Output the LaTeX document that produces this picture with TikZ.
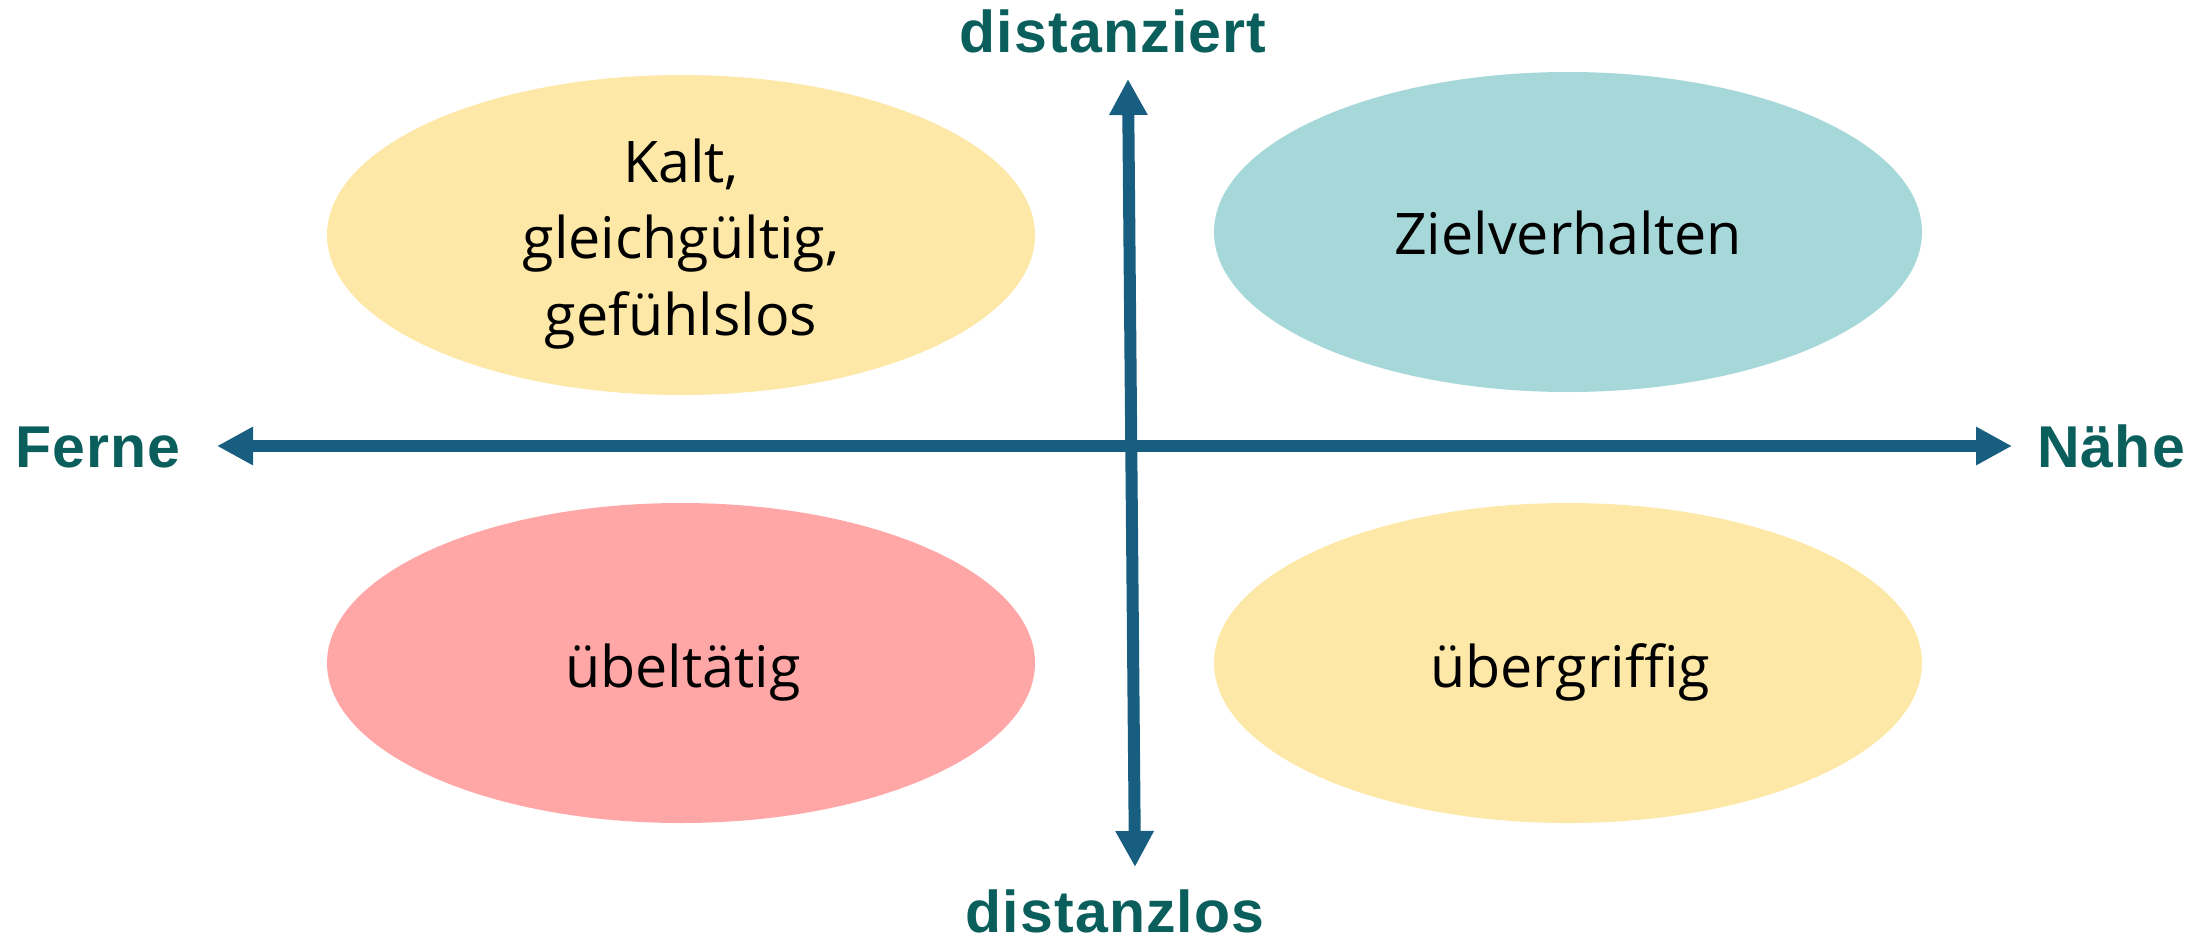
\documentclass[tikz,border=0pt]{standalone}
\usepackage{fontspec}
\setmainfont{Open Sans}
\newfontfamily\labelfont[LetterSpace=2]{Liberation Sans}
\usetikzlibrary{arrows.meta,shapes.geometric}
\definecolor{axisblue}{RGB}{23,94,128}
\definecolor{labelteal}{RGB}{10,94,92}
\definecolor{softyellow}{RGB}{254,232,168}
\definecolor{softteal}{RGB}{167,216,217}
\definecolor{softpink}{RGB}{255,167,167}
\tikzset{
  blob/.style={ellipse, inner sep=0pt, minimum width=354pt, minimum height=160pt},
  bodytext/.style={inner sep=0pt, anchor=base, align=center, text=black,
    font=\fontsize{28.7}{38.25}\selectfont},
  axislabel/.style={inner sep=0pt, anchor=base, text=labelteal,
    font=\labelfont\bfseries\fontsize{29.5}{35}\selectfont},
  axisline/.style={draw=axisblue, line width=6pt,
    {Triangle[length=18pt,width=18pt]}-{Triangle[length=18pt,width=18pt]}}
}
\begin{document}
\begin{tikzpicture}[x=0.5pt,y=-0.5pt]
\useasboundingbox (0,0) rectangle (2211,942);
% ellipses
\node[blob, fill=softyellow] (kalt) at (681,235) {};
\node[blob, fill=softteal] (ziel) at (1568,232) {};
\node[blob, fill=softpink] (uebel) at (681,663) {};
\node[blob, fill=softyellow] (ueber) at (1568,663) {};
% texts
\node[bodytext] (kalttxt) at (681,335) {Kalt,\\gleichgültig,\\gefühlslos};
\node[bodytext] (zieltxt) at (1568,254) {Zielverhalten};
\node[bodytext] (uebeltxt) at (683,687) {übeltätig};
\node[bodytext] (uebertxt) at (1570,687) {übergriffig};
% axes
\coordinate (left) at (217,446);
\coordinate (right) at (2012,446);
\coordinate (top) at (1128,79);
\coordinate (bottom) at (1135,867);
\draw[axisline] (left) -- (right);
\draw[axisline] (top) -- (bottom);
% axis labels
\node[axislabel] (ferne) at (98,467) {Ferne};
\node[axislabel] (naehe) at (2111,467) {Nähe};
\node[axislabel] (dist) at (1113,52) {distanziert};
\node[axislabel] (distlos) at (1115,932) {distanzlos};
\end{tikzpicture}
\end{document}
